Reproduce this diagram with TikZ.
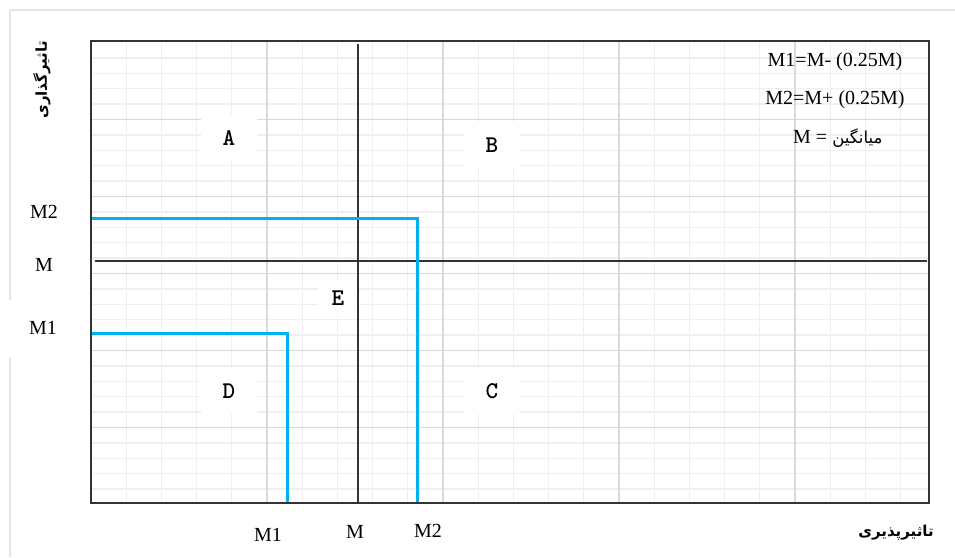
\documentclass[tikz,border=0pt]{standalone}
\usepackage{fontspec}
\setmainfont{Liberation Serif}
\newfontfamily\fafont[Script=Arabic]{DejaVu Sans}
\TeXXeTstate=1
\definecolor{gridminor}{HTML}{EFEFEF}
\definecolor{gridmajor}{HTML}{D9D9D9}
\definecolor{axisgray}{HTML}{333333}
\definecolor{excelblue}{HTML}{00B0F0}
\definecolor{outerframe}{HTML}{E4E4E4}
\tikzset{
  minorline/.style={draw=gridminor, line width=1.3pt},
  majorline/.style={draw=gridmajor, line width=1.3pt},
  axisline/.style={draw=axisgray, line width=1.4pt},
  blueline/.style={draw=excelblue, line width=3pt},
  framebox/.style={draw=axisgray, line width=1.6pt},
  outerline/.style={draw=outerframe, line width=1.5pt},
  lbl/.style={font=\fontsize{20}{24}\selectfont, inner sep=0pt},
  zonelbl/.style={font=\ttfamily\bfseries\fontsize{24}{28}\selectfont, fill=white, minimum width=56pt, minimum height=46pt, inner sep=0pt},
  falbl/.style={font=\fafont\bfseries\fontsize{15}{19}\selectfont, inner sep=0pt}
}
\begin{document}
\begin{tikzpicture}[x=1pt,y=-1pt]
\useasboundingbox (0,0) rectangle (955,557);
\fill[white] (0,0) rectangle (955,557);
% outer faint frame
\draw[outerline] (10,10) -- (955,10);
\draw[outerline] (10,10) -- (10,300);
\draw[outerline] (10,358) -- (10,557);
% grid
\foreach \k in {1,...,23} {
  \pgfmathsetmacro\xx{91+35.2*\k}
  \draw[minorline] (\xx,41) -- (\xx,503);
}
\foreach \k in {1,...,29} {
  \pgfmathsetmacro\yy{42.5+15.4*\k}
  \draw[minorline] (91,\yy) -- (929,\yy);
}
\foreach \k in {5,10,15,20} {
  \pgfmathsetmacro\xx{91+35.2*\k}
  \draw[majorline] (\xx,41) -- (\xx,503);
}
\foreach \k in {5,10,15,20,25} {
  \pgfmathsetmacro\yy{42.5+15.4*\k}
  \draw[majorline] (91,\yy) -- (929,\yy);
}
% zone labels
\node[zonelbl] (A) at (229,138) {A};
\node[zonelbl] (B) at (492,145) {B};
\node[zonelbl, minimum width=40pt, minimum height=36pt] (E) at (338,298) {E};
\node[zonelbl] (D) at (229,391) {D};
\node[zonelbl] (C) at (492,391) {C};
% mean lines
\coordinate (mvt) at (358,44);
\coordinate (mvb) at (358,503);
\coordinate (mhl) at (95,261);
\coordinate (mhr) at (927,261);
\draw[axisline] (mvt) -- (mvb);
\draw[axisline] (mhl) -- (mhr);
% blue lines
\coordinate (m2l) at (91,218.5);
\coordinate (m2c) at (417.5,218.5);
\coordinate (m2b) at (417.5,503);
\coordinate (m1l) at (91,333);
\coordinate (m1c) at (287,333);
\coordinate (m1b) at (287,503);
\draw[blueline] (m2l) -- (m2c) -- (m2b);
\draw[blueline] (m1l) -- (m1c) -- (m1b);
% plot frame
\draw[framebox] (91,41) rectangle (929,503);
% axis labels left
\node[lbl] (yM2) at (44,212) {M2};
\node[lbl] (yM) at (44,265) {M};
\node[lbl] (yM1) at (43,328) {M1};
% axis labels bottom
\node[lbl] (xM1) at (268,535) {M1};
\node[lbl] (xM) at (355,532) {M};
\node[lbl] (xM2) at (428,531) {M2};
% legend
\node[lbl] (l1) at (835,62) {M1=M- (0.25M)};
\node[lbl] (l2) at (835,100) {M2=M+ (0.25M)};
\node[lbl, anchor=west] (l3) at (793,138) {M = {\fafont\fontsize{16.5}{20}\selectfont\beginR میانگین\endR}};
% axis titles
\node[falbl] (xt) at (896,533) {\beginR تاثیرپذیری\endR};
\node[falbl, rotate=90] (yt) at (42,80) {\beginR تاثیرگذاری\endR};
\end{tikzpicture}
\end{document}
